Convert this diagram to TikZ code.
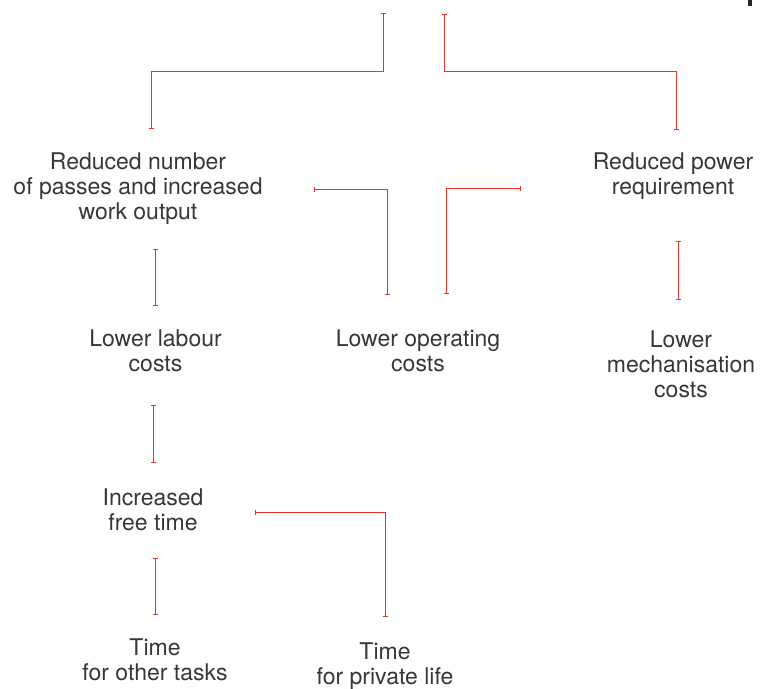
\documentclass[tikz,border=0pt]{standalone}
\usepackage{fontspec}
\setmainfont{TeX Gyre Heros}
\usetikzlibrary{arrows.meta}
\definecolor{link}{RGB}{232,50,40}
\definecolor{txt}{RGB}{55,55,55}
\begin{document}
\begin{tikzpicture}[x=1pt,y=-1pt,
  lbl/.style={font=\fontsize{23}{25}\selectfont, text=txt, align=center, inner sep=0pt},
  conn/.style={draw=link, line width=1pt, {Bar[width=5pt]}-{Bar[width=5pt]}}]
\useasboundingbox (0,0) rectangle (762,688);
\fill[black!85] (748,0) rectangle (752,6);

\node[lbl] (rp) at (138,188.5) {Reduced number\\of passes and increased\\work output};
\node[lbl] (pw) at (673,176.5) {Reduced power\\requirement};
\node[lbl] (ll) at (155.5,351) {Lower labour\\costs};
\node[lbl] (lo) at (418,351) {Lower operating\\costs};
\node[lbl] (lm) at (681,364.5) {Lower\\mechanisation\\costs};
\node[lbl] (ft) at (153,510) {Increased\\free time};
\node[lbl] (ot) at (155,659.5) {Time\\for other tasks};
\node[lbl] (pl) at (385,666) {Time\\for private life};

% top branches
\coordinate (t1) at (383,13);
\coordinate (t2) at (444,14);
\coordinate (rpin) at (151,129);
\coordinate (pwin) at (676,130);
\draw[conn] (t1) -- (383,71) -- (151,71) -- (rpin);
\draw[conn] (t2) -- (444,71) -- (676,71) -- (pwin);

% to lower operating costs
\coordinate (rpout) at (314,189);
\coordinate (loin1) at (387,295);
\coordinate (pwout) at (521,188);
\coordinate (loin2) at (446,294);
\draw[conn] (rpout) -- (387,189) -- (loin1);
\draw[conn] (pwout) -- (446,188) -- (loin2);

% verticals
\coordinate (rpd) at (155,249);
\coordinate (lli) at (155,306);
\draw[conn] (rpd) -- (lli);
\coordinate (pwd) at (678,241);
\coordinate (lmi) at (678,300);
\draw[conn] (pwd) -- (lmi);
\coordinate (lld) at (153,405);
\coordinate (fti) at (153,463);
\draw[conn] (lld) -- (fti);
\coordinate (ftd) at (155,558);
\coordinate (oti) at (155,615);
\draw[conn] (ftd) -- (oti);

% to private life
\coordinate (ftout) at (255,512);
\coordinate (pli) at (385,617);
\draw[conn] (ftout) -- (385,512) -- (pli);
\end{tikzpicture}
\end{document}
